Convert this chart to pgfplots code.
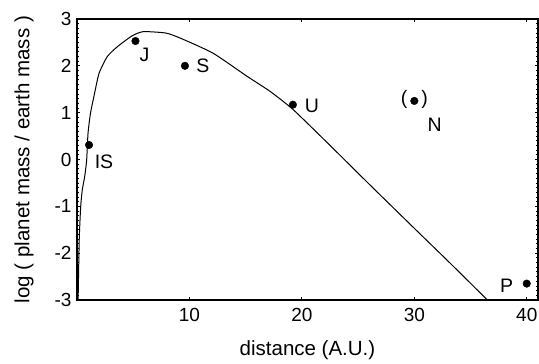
\documentclass[border=0pt]{standalone}
\usepackage{pgfplots}
\pgfplotsset{compat=1.18}
\usepackage{fontspec}
\setmainfont{Liberation Sans}

% planets: distance (A.U.) vs log(mass / earth mass)
\pgfplotstableread{
x     y
1.07  0.31
5.2   2.53
9.6   2.00
19.2  1.17
30.0  1.25
40.0  -2.65
}\planets

\begin{document}
\begin{tikzpicture}
\begin{axis}[
    scale only axis,
    width=461pt, height=281pt,
    xmin=0, xmax=41,
    ymin=-3, ymax=3,
    xtick={10,20,30,40},
    ytick={-3,-2,-1,0,1,2,3},
    minor y tick num=9,
    tick align=inside,
    major tick length=3pt,
    minor tick length=2pt,
    axis line style={line width=1.4pt},
    tick style={line width=0.8pt, black},
    /pgf/number format/assume math mode=true,
    ticklabel style={font=\fontsize{19}{22}\selectfont},
    xticklabel style={yshift=-5pt},
    yticklabel style={xshift=-2pt},
    xlabel={distance (A.U.)},
    ylabel={log ( planet mass / earth mass )},
    every axis x label/.style={at={(axis description cs:0.5,-0.178)}, anchor=center,
        font=\fontsize{20.5}{24}\selectfont},
    every axis y label/.style={at={(axis description cs:-0.115,0.5)}, rotate=90, anchor=center,
        font=\fontsize{20.5}{24}\selectfont},
    clip=false,
]
\addplot[black, line width=1pt, smooth, tension=0.35] coordinates {
    (0.1,-3) (0.2,-1.7) (0.33,-1.0) (0.47,-0.65) (0.68,-0.37) (0.86,-0.01)
    (0.98,0.56) (1.2,0.99) (1.5,1.34) (1.96,1.84) (2.7,2.2) (3.6,2.41)
    (4.9,2.64) (5.9,2.73) (7.9,2.70) (9.2,2.59) (12.1,2.27) (15.1,1.78)
    (17.2,1.45) (19.2,1.07) (22,0.42) (26,-0.53) (30,-1.47) (33,-2.17) (36.5,-3)
};
\addplot[only marks, mark=*, mark size=3.8pt, black] table[x=x, y=y] {\planets};

\node[font=\fontsize{19.5}{22}\selectfont] at (axis cs:2.4,-0.05) {IS};
\node[font=\fontsize{19.5}{22}\selectfont] at (axis cs:6.0,2.23) {J};
\node[font=\fontsize{19.5}{22}\selectfont] at (axis cs:11.2,2.0) {S};
\node[font=\fontsize{19.5}{22}\selectfont] at (axis cs:20.9,1.15) {U};
\node[font=\fontsize{19.5}{22}\selectfont] at (axis cs:30.0,1.28) {(\hspace{14pt})};
\node[font=\fontsize{19.5}{22}\selectfont] at (axis cs:31.8,0.75) {N};
\node[font=\fontsize{19.5}{22}\selectfont] at (axis cs:38.2,-2.7) {P};

\coordinate (bl) at (axis cs:0,-3);
\coordinate (tr) at (axis cs:41,3);
\end{axis}
\pgfresetboundingbox
\path[use as bounding box] ([xshift=-77pt,yshift=-64pt]bl) rectangle ([xshift=1pt,yshift=19pt]tr);
\end{tikzpicture}
\end{document}
